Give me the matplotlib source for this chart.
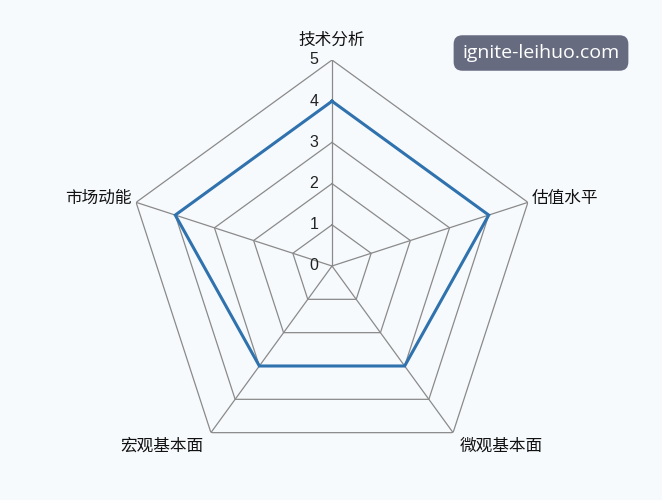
import matplotlib
matplotlib.use('Agg')
import matplotlib.pyplot as plt
import matplotlib.transforms as mtransforms
import numpy as np

# Data
categories = ['技术分析', '估值水平', '微观基本面', '宏观基本面', '市场动能']
values = [4, 4, 3, 3, 4]
r_ticks = [0, 1, 2, 3, 4, 5]
r_max = 5

bg = '#f7fafd'
line_color = '#2f72ad'
grid_color = '#8a8a8a'

fig = plt.figure(figsize=(6.62, 5.0), dpi=100, facecolor=bg)
# center (332, 266) px from top-left, radius 206 px
cx, cy, rad = 332, 500 - 266, 206
ax = fig.add_axes([(cx - rad) / 662, (cy - rad) / 500, 2 * rad / 662, 2 * rad / 500],
                  projection='polar')
ax.set_facecolor('none')
ax.set_theta_offset(np.pi / 2)
ax.set_theta_direction(-1)
ax.set_ylim(0, r_max)
ax.grid(False)
ax.spines['polar'].set_visible(False)
ax.set_xticks([])
ax.set_yticks([])

n = len(categories)
angles = np.linspace(0, 2 * np.pi, n, endpoint=False)
closed = np.append(angles, angles[0])

# polygon grid
for r in r_ticks[1:]:
    ax.plot(closed, [r] * (n + 1), color=grid_color, lw=0.9, zorder=1)
for a in angles:
    ax.plot([a, a], [0, r_max], color=grid_color, lw=0.9, zorder=1)

# data series
ax.plot(closed, values + values[:1], color=line_color, lw=2.2, zorder=3,
        solid_joinstyle='miter')

# radial tick labels
off = mtransforms.offset_copy(ax.transData, fig=fig, x=-18, y=0, units='dots')
for r in r_ticks:
    ax.text(0, r, str(r), transform=off, ha='center', va='center',
            fontsize=11.5, family='Liberation Sans', color='#222222')

# category labels
cjk = ['Noto Sans CJK SC', 'DejaVu Sans']
label_cfg = [
    (0, 11, 'center', 'bottom'),
    (4, 4, 'left', 'center'),
    (7, -5, 'left', 'top'),
    (-7, -5, 'right', 'top'),
    (-4, 4, 'right', 'center'),
]
for a, lab, (dx, dy, ha, va) in zip(angles, categories, label_cfg):
    tr = mtransforms.offset_copy(ax.transData, fig=fig, x=dx, y=dy, units='dots')
    ax.text(a, r_max, lab, transform=tr, ha=ha, va=va, fontsize=12,
            family=cjk, color='#111111')

# watermark
fig.text(541 / 662, 1 - 53 / 500, 'ignite-leihuo.com', ha='center', va='center',
         fontsize=14, family='Open Sans', color='white',
         bbox=dict(boxstyle='round,pad=0.45,rounding_size=0.45', fc='#676b80', ec='none'))

fig.savefig('out.png', dpi=100, facecolor=bg)
